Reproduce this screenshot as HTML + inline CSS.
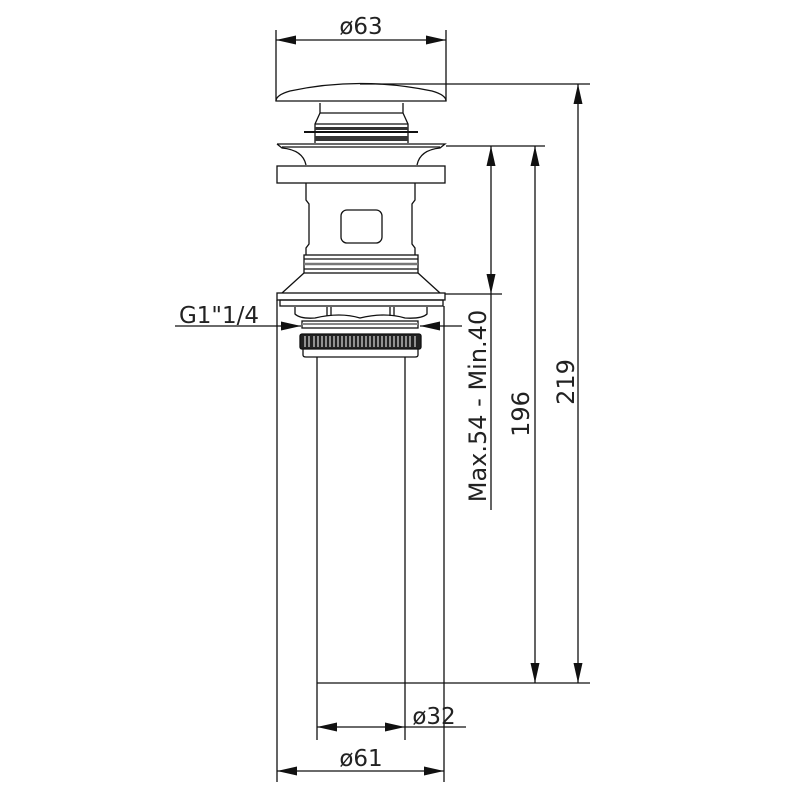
<!DOCTYPE html>
<html><head><meta charset="utf-8"><style>
html,body{margin:0;padding:0;background:#fff;}
svg{display:block;}
text{font-family:"DejaVu Sans","Liberation Sans",sans-serif;fill:#222;}
</style></head><body>
<svg width="799" height="800" viewBox="0 0 799 800" xmlns="http://www.w3.org/2000/svg">
<defs>
<marker id="a" viewBox="0 0 20 9" refX="20" refY="4.5" markerWidth="20" markerHeight="9" orient="auto-start-reverse" markerUnits="userSpaceOnUse"><path d="M0,0 L20,4.5 L0,9 z" fill="#111"/></marker>
</defs>
<g stroke="#111" stroke-width="1.3" fill="none">
<!-- cap -->
<line x1="276" y1="30" x2="276" y2="101"/>
<line x1="446" y1="30" x2="446" y2="101"/>
<path d="M276,101 Q276,95 290,91 Q360,76 432,91 Q446,95 446,101 Z" fill="#fff"/>
<line x1="360" y1="84" x2="590" y2="84"/>
<!-- stem -->
<path d="M320,103 L320,113 L315,124 L315,143 M403,103 L403,113 L408,124 L408,143"/>
<line x1="320" y1="113" x2="403" y2="113"/>
<line x1="315" y1="124" x2="408" y2="124"/>
<rect x="315" y="127" width="93" height="3" fill="#333" stroke="none"/>
<rect x="315" y="136" width="93" height="5" fill="#333" stroke="none"/>
<path d="M304,132 L418,132" stroke-width="2"/>
<!-- flange -->
<path d="M277,144 L445,144 L440,148 Q420,150 417,165 M277,144 L282,148 Q303,150 306,165"/>
<line x1="282" y1="147" x2="440" y2="147"/>
<rect x="277" y="166" width="168" height="17"/>
<!-- body -->
<path d="M306,183 L306,200 L309,204 L309,244 L306,248 L306,255 M415,183 L415,200 L412,204 L412,244 L415,248 L415,255"/>
<rect x="341" y="210" width="41" height="33" rx="6"/>
<!-- threads -->
<rect x="304" y="255" width="114" height="18"/>
<line x1="304" y1="259" x2="418" y2="259"/>
<line x1="304" y1="264" x2="418" y2="264" stroke="#777" stroke-width="2.5"/>
<line x1="304" y1="269" x2="418" y2="269"/>
<path d="M304,273 L282,293 M418,273 L440,293"/>
<!-- plate -->
<rect x="277" y="293" width="168" height="7"/>
<rect x="280" y="300" width="163" height="6"/>
<path d="M295,307 L295,314 Q300,319 315,318 Q340,312 360,318 Q385,312 405,318 Q422,319 427,314 L427,307"/>
<path d="M327,307 V316 M331,307 V316 M390,307 V316 M394,307 V316"/>
<rect x="302" y="321" width="116" height="7"/>
<line x1="302" y1="324" x2="418" y2="324" stroke="#888" stroke-width="2"/>
<!-- knurled ring -->
<rect x="300" y="334" width="121" height="15" rx="2" fill="#222"/>
<path d="M303,349 L303,355 Q303,357 306,357 L415,357 Q418,357 418,355 L418,349"/>
<!-- pipe -->
<line x1="317" y1="357" x2="317" y2="740"/>
<line x1="405" y1="357" x2="405" y2="740"/>
<line x1="277" y1="300" x2="277" y2="782"/>
<line x1="444" y1="306" x2="444" y2="782"/>
<line x1="317" y1="683" x2="590" y2="683"/>
<!-- dims -->
<line x1="276" y1="40" x2="446" y2="40" marker-start="url(#a)" marker-end="url(#a)"/>
<line x1="578" y1="84" x2="578" y2="683" marker-start="url(#a)" marker-end="url(#a)"/>
<line x1="446" y1="146" x2="545" y2="146"/>
<line x1="535" y1="146" x2="535" y2="683" marker-start="url(#a)" marker-end="url(#a)"/>
<line x1="491" y1="146" x2="491" y2="294" marker-start="url(#a)" marker-end="url(#a)"/>
<line x1="491" y1="294" x2="491" y2="510"/>
<line x1="445" y1="294" x2="502" y2="294"/>
<line x1="175" y1="326" x2="301" y2="326" marker-end="url(#a)"/>
<line x1="462" y1="326" x2="420" y2="326" marker-end="url(#a)"/>
<line x1="317" y1="727" x2="405" y2="727" marker-start="url(#a)" marker-end="url(#a)"/>
<line x1="405" y1="727" x2="466" y2="727"/>
<line x1="277" y1="771" x2="444" y2="771" marker-start="url(#a)" marker-end="url(#a)"/>
</g>
<g stroke="#fff" stroke-width="1" fill="none">
<path d="M305,336 V347 M309,336 V347 M314,336 V347 M318,336 V347 M322,336 V347 M326,336 V347 M330,336 V347 M334,336 V347 M338,336 V347 M342,336 V347 M346,336 V347 M350,336 V347 M354,336 V347 M358,336 V347 M362,336 V347 M366,336 V347 M370,336 V347 M374,336 V347 M378,336 V347 M382,336 V347 M386,336 V347 M390,336 V347 M394,336 V347 M398,336 V347 M402,336 V347 M406,336 V347 M410,336 V347 M415,336 V347"/>
</g>
<text x="361" y="34" font-size="23" text-anchor="middle">ø63</text>
<text x="219" y="323" font-size="23" text-anchor="middle">G1"1/4</text>
<text x="434" y="724" font-size="23" text-anchor="middle">ø32</text>
<text x="361" y="766" font-size="23" text-anchor="middle">ø61</text>
<text transform="translate(486,406) rotate(-90)" font-size="24" text-anchor="middle">Max.54 - Min.40</text>
<text transform="translate(529,414) rotate(-90)" font-size="24" text-anchor="middle">196</text>
<text transform="translate(574,382) rotate(-90)" font-size="24" text-anchor="middle">219</text>
</svg>
</body></html>
